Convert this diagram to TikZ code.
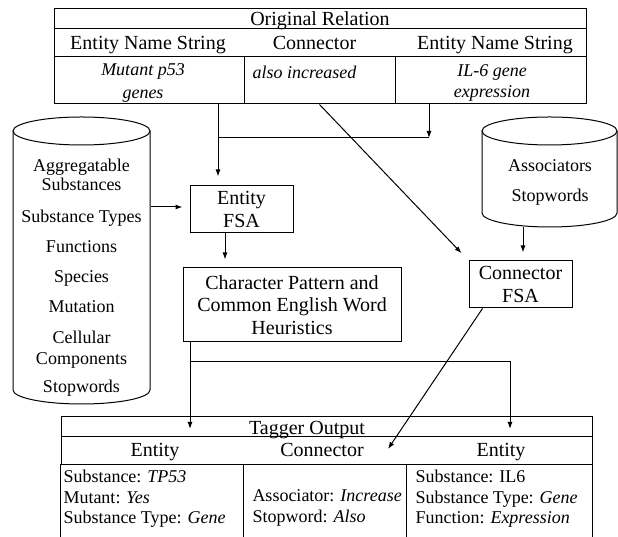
\documentclass[tikz,border=0pt]{standalone}
\usepackage{fontspec}
\setmainfont{Liberation Serif}
\usetikzlibrary{arrows.meta,calc}
\begin{document}
\begin{tikzpicture}[x=1pt,y=1pt,line width=1pt,
  box/.style={draw, rectangle, inner sep=0pt, align=center, font=\fontsize{20}{22.5}\selectfont},
  cell/.style={draw, rectangle, inner sep=0pt},
  hole/.style={rectangle, inner sep=0pt},
  tt/.style={inner sep=0pt, anchor=base, font=\fontsize{20}{22}\selectfont},
  ts/.style={inner sep=0pt, anchor=base, font=\fontsize{18}{20}\selectfont},
  tsl/.style={ts, anchor=base west},
  arr/.style={-{Latex[length=7pt,width=5pt]}},
]
\useasboundingbox (0,0) rectangle (618,537);

% ---------- Original relation table ----------
\node[cell, minimum width=532pt, minimum height=20pt] (otitle) at (320,518) {};
\node[tt] (otitlet) at (320,511.4) {Original Relation};
\node[cell, minimum width=532pt, minimum height=28pt] (ohead) at (320,494) {};
\node[tt] (oh1) at (148,487.4) {Entity Name String};
\node[tt] (oh2) at (314.5,487.4) {Connector};
\node[tt] (oh3) at (495,487.4) {Entity Name String};
\node[cell, minimum width=190pt, minimum height=47pt] (c1) at (149,456.5) {};
\node[cell, minimum width=151pt, minimum height=47pt] (c2) at (319.5,456.5) {};
\node[cell, minimum width=191pt, minimum height=47pt] (c3) at (490.5,456.5) {};
\node[ts] (c1a) at (143,461) {\itshape Mutant p53};
\node[ts] (c1b) at (143,438) {\itshape genes};
\node[tsl] (c2a) at (252,458) {\itshape also increased};
\node[ts] (c3a) at (492,460) {\itshape IL-6 gene};
\node[ts] (c3b) at (492,439) {\itshape expression};

% ---------- Left database ----------
\node[hole, minimum width=137pt, minimum height=287pt] (lcyl) at (81.5,276.5) {};
\draw (13,406) -- (13,147) arc[start angle=180,end angle=360,x radius=68.5,y radius=14] -- (150,406);
\draw (81.5,406) ellipse[x radius=68.5,y radius=14];
\node[ts] (l1t) at (81.5,365) {Aggregatable};
\node[ts] (l2t) at (81.5,346) {Substances};
\node[ts] (l3t) at (81.5,314) {Substance Types};
\node[ts] (l4t) at (81.5,284) {Functions};
\node[ts] (l5t) at (81.5,254) {Species};
\node[ts] (l6t) at (81.5,224) {Mutation};
\node[ts] (l7t) at (81.5,193) {Cellular};
\node[ts] (l8t) at (81.5,172) {Components};
\node[ts] (l9t) at (81.5,144) {Stopwords};

% ---------- Right database ----------
\node[hole, minimum width=135pt, minimum height=110pt] (rcyl) at (549.5,365) {};
\draw (482,406) -- (482,324) arc[start angle=180,end angle=360,x radius=67.5,y radius=14] -- (617,406);
\draw (549.5,406) ellipse[x radius=67.5,y radius=14];
\node[ts] (r1t) at (550,365) {Associators};
\node[ts] (r2t) at (550,335) {Stopwords};

% ---------- Process boxes ----------
\node[box, minimum width=103pt, minimum height=47pt] (efsa) at (241.5,327.5) {Entity\\FSA};
\node[box, minimum width=218pt, minimum height=74pt] (char) at (292,232) {Character Pattern and\\Common English Word\\Heuristics};
\node[box, minimum width=103pt, minimum height=47pt] (cfsa) at (520.5,252.5) {Connector\\FSA};

% ---------- Tagger output table ----------
\node[cell, minimum width=531pt, minimum height=20pt] (ttitle) at (326.5,110) {};
\node[tt] (ttitlet) at (307,102.4) {Tagger Output};
\node[cell, minimum width=531pt, minimum height=28pt] (thead) at (326.5,86) {};
\node[tt] (th1) at (155,80.4) {Entity};
\node[tt] (th2) at (322,80.4) {Connector};
\node[tt] (th3) at (501,80.4) {Entity};
\node[hole, minimum width=183pt, minimum height=72pt] (b1) at (152.5,36) {};
\node[hole, minimum width=163pt, minimum height=72pt] (b2) at (325.5,36) {};
\node[hole, minimum width=185pt, minimum height=72pt] (b3) at (499.5,36) {};
\draw (b1.north west) -- (b1.south west);
\draw (b2.north west) -- (b2.south west);
\draw (b3.north west) -- (b3.south west);
\draw (b3.north east) -- (b3.south east);
\node[tsl] (b1a) at (63,54) {Substance: \textit{TP53}};
\node[tsl] (b1b) at (63,33) {Mutant: \textit{Yes}};
\node[tsl] (b1c) at (63,13) {Substance Type: \textit{Gene}};
\node[tsl] (b2a) at (252,35) {Associator: \textit{Increase}};
\node[tsl] (b2b) at (252,14) {Stopword: \textit{Also}};
\node[tsl] (b3a) at (415,54) {Substance: IL6};
\node[tsl] (b3b) at (415,33) {Substance Type: \textit{Gene}};
\node[tsl] (b3c) at (415,13) {Function: \textit{Expression}};

% ---------- Connectors ----------
\coordinate (j1) at (218,399);
\coordinate (j2) at (429,399);
\coordinate (ly) at (0,330);
\coordinate (ex) at (225,0);
\coordinate (cx) at (523,0);
\coordinate (j3) at (190,175);
\coordinate (j4) at (510,175);
\coordinate (t1) at (190,108);
\coordinate (t2) at (510,108);
\coordinate (t3) at (388,88);

\draw[arr, shorten >=9pt] (c1.south -| j1) -- (efsa.north -| j1);
\draw[arr] (c3.south -| j2) -- (j2);
\draw (j2) -- (j1);
\draw[arr, shorten >=10pt] (c2.south) -- (cfsa.north west);
\draw[arr, shorten >=7pt] (lcyl.east |- ly) -- (efsa.west |- ly);
\draw[arr, shorten >=8pt] (efsa.south -| ex) -- (char.north -| ex);
\draw[arr, shorten >=8pt] (rcyl.south -| cx) -- (cfsa.north -| cx);
\draw[arr] (char.south -| j3) -- (t1);
\draw[arr] (j3) -- (j4) -- (t2);
\draw[arr] ($(cfsa.south west)+(14,0)$) -- (t3);
\end{tikzpicture}
\end{document}
